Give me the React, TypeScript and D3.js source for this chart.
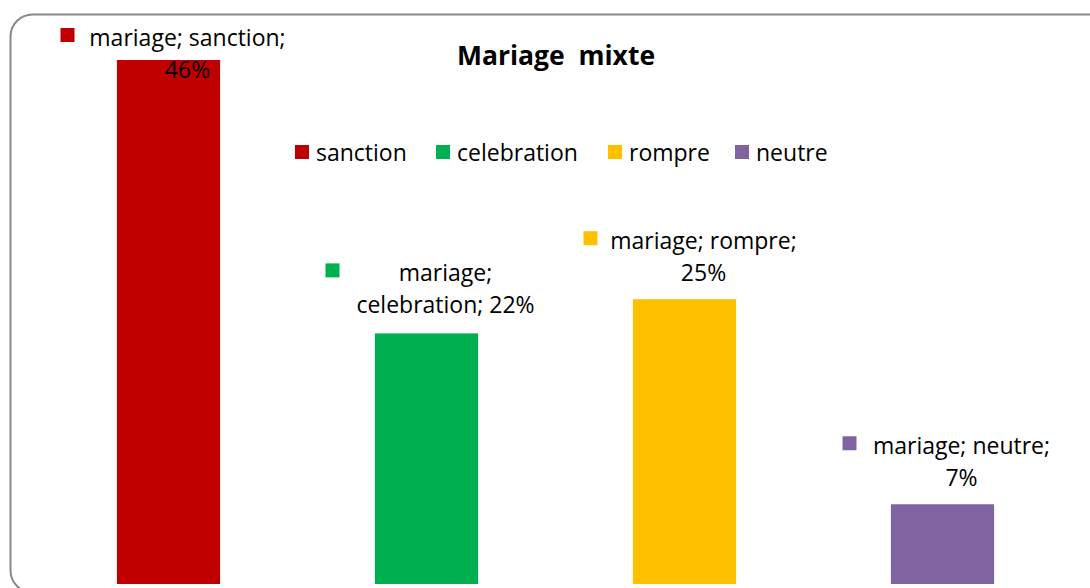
import React from "react";
import * as d3 from "d3";

const categories = ["sanction", "celebration", "rompre", "neutre"];
const values = [46, 22, 25, 7];
const colors = ["#C00000", "#00B050", "#FFC000", "#8064A2"];
// how each data label is broken into lines
const labelLines = [
  ["mariage; sanction;", "46%"],
  ["mariage;", "celebration; 22%"],
  ["mariage; rompre;", "25%"],
  ["mariage; neutre;", "7%"],
];

const W = 1090;
const H = 588;
const FONT = "'Open Sans', 'Noto Sans', sans-serif";

// label block nudges (px) relative to bar centre / top
const labelDx = 19;
const labelMarkerDx = [127, 120, 120, 119];
const legendX = [295, 436, 608, 735];

const App = () => {
  const x = d3.scaleBand().domain(categories).range([39.5, 1071.5]).paddingInner(0.6).paddingOuter(0.3);
  const y = d3.scaleLinear().domain([0, 46]).range([584, 60]);
  const bw = x.bandwidth();

  return (
    <svg
      width={W}
      height={H}
      style={{ position: "absolute", left: 0, top: 0, background: "#fff", fontVariantLigatures: "none" }}
      fontFamily={FONT}
    >
      <rect x={10.5} y={14.5} width={1100} height={578} rx={22} fill="#fff" stroke="#888" strokeWidth={2} />

      {categories.map((c, i) => (
        <rect key={c} x={x(c)} y={y(values[i])} width={bw} height={y(0) - y(values[i])} fill={colors[i]} />
      ))}

      <text x={556} y={65} textAnchor="middle" fontSize={26.5} fontWeight="bold" fill="#000" style={{ whiteSpace: "pre" }}>
        Mariage  mixte
      </text>

      {categories.map((c, i) => (
        <g key={"lg" + c}>
          <rect x={legendX[i]} y={145} width={14} height={14} fill={colors[i]} />
          <text x={legendX[i] + 21} y={161} fontSize={23} fill="#000">
            {c}
          </text>
        </g>
      ))}

      {categories.map((c, i) => {
        const lines = labelLines[i];
        const cx = (x(c) as number) + bw / 2 + labelDx;
        // the tallest bar's label is pushed down against the top edge
        const base1 = i === 0 ? 46 : y(values[i]) - (i === 1 ? 52 : 50);
        return (
          <g key={"dl" + c}>
            <rect x={cx - labelMarkerDx[i]} y={base1 - 18} width={14} height={14} fill={colors[i]} />
            {lines.map((t, j) => (
              <text key={j} x={cx} y={base1 + j * 32} textAnchor="middle" fontSize={23} fill="#000">
                {t}
              </text>
            ))}
          </g>
        );
      })}
    </svg>
  );
};

export default App;
